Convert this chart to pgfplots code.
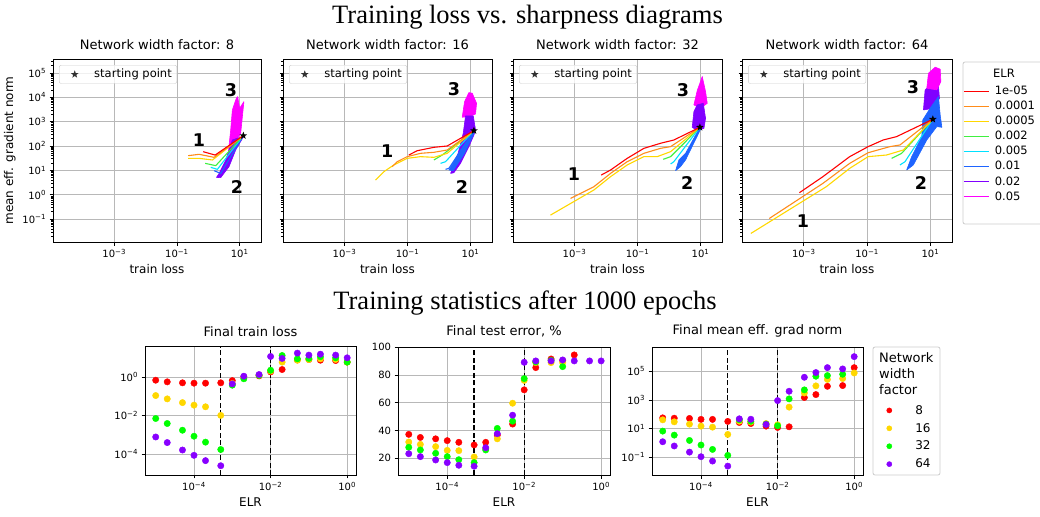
\documentclass[border=0pt]{standalone}
\usepackage{pgfplots}
\pgfplotsset{compat=1.18}
\usepackage{fontspec}
\setmainfont{DejaVu Sans}
\newfontfamily\titlefont{Liberation Serif}

\definecolor{cRed}{RGB}{255,0,0}
\definecolor{cOrange}{RGB}{255,140,26}
\definecolor{cGold}{RGB}{255,215,0}
\definecolor{cGreen}{RGB}{64,240,64}
\definecolor{cCyan}{RGB}{0,225,255}
\definecolor{cBlue}{RGB}{30,100,255}
\definecolor{cPurple}{RGB}{128,0,255}
\definecolor{cMagenta}{RGB}{255,0,255}
\definecolor{sRed}{RGB}{255,0,0}
\definecolor{sGold}{RGB}{255,215,0}
\definecolor{sGreen}{RGB}{0,255,0}
\definecolor{sPurple}{RGB}{136,0,255}

% filled five-point star
\pgfdeclareplotmark{fstar}{%
  \pgfpathmoveto{\pgfpointpolar{90}{\pgfplotmarksize}}%
  \pgfpathlineto{\pgfpointpolar{126}{0.42\pgfplotmarksize}}%
  \pgfpathlineto{\pgfpointpolar{162}{\pgfplotmarksize}}%
  \pgfpathlineto{\pgfpointpolar{198}{0.42\pgfplotmarksize}}%
  \pgfpathlineto{\pgfpointpolar{234}{\pgfplotmarksize}}%
  \pgfpathlineto{\pgfpointpolar{270}{0.42\pgfplotmarksize}}%
  \pgfpathlineto{\pgfpointpolar{306}{\pgfplotmarksize}}%
  \pgfpathlineto{\pgfpointpolar{342}{0.42\pgfplotmarksize}}%
  \pgfpathlineto{\pgfpointpolar{18}{\pgfplotmarksize}}%
  \pgfpathlineto{\pgfpointpolar{54}{0.42\pgfplotmarksize}}%
  \pgfpathclose\pgfusepathqfill}

\newcommand{\logt}[1]{\pgfmathtruncatemacro{\ee}{round(#1)}10\textsuperscript{\ifnum\ee<0 −\number-\ee\else\ee\fi}}

% tikz-only styles
\tikzset{
  trl/.style={line width=1.1pt, line join=round},
  blb/.style={line width=0.6pt, line join=round},
  pNum/.style={font=\fontsize{17.5}{20}\selectfont\bfseries},
}

% axis option sets, expanded in place
\newcommand{\TopAxis}[1]{\begin{axis}[scale only axis, anchor=north west,
    tick align=outside, tick pos=left,
    grid=major, major grid style={color=black!28, line width=0.6pt},
    axis line style={line width=0.8pt},
    every tick/.style={black, line width=0.6pt},
    major tick length=3.5pt, minor tick length=2pt,
    font=\fontsize{12}{14}\selectfont,
    tick label style={font=\fontsize{10}{12}\selectfont},
    title style={font=\fontsize{13}{15}\selectfont},
    xmode=log, ymode=log, log basis x=10, log basis y=10, height=183pt,
    xmin=1.12e-5, xmax=47.9, ymin=0.0115, ymax=3.7e5,
    xtick={1e-3,1e-1,10}, ytick={1e-1,1,10,100,1000,10000,100000},
    minor ytick={2e-2,3e-2,4e-2,5e-2,6e-2,7e-2,8e-2,9e-2,2e-1,3e-1,4e-1,5e-1,6e-1,7e-1,8e-1,9e-1,
      2,3,4,5,6,7,8,9,20,30,40,50,60,70,80,90,200,300,400,500,600,700,800,900,
      2e3,3e3,4e3,5e3,6e3,7e3,8e3,9e3,2e4,3e4,4e4,5e4,6e4,7e4,8e4,9e4,2e5,3e5},
    xticklabel={\logt{\tick}}, yticklabel={\logt{\tick}}, xlabel={train loss},
    legend cell align=left,
    legend image code/.code={\draw[##1] plot coordinates {(12.5pt,0pt)}; \path[draw=none, fill=none] (0pt,0pt) -- (30pt,0pt);},
    legend style={at={(0.029,0.967)}, anchor=north west, draw=black!20,
      rounded corners=2pt, fill=white, fill opacity=0.8, text opacity=1,
      font=\fontsize{11.5}{13}\selectfont}, #1]}

\newcommand{\BotAxis}[1]{\begin{axis}[scale only axis, anchor=north west,
    tick align=outside, tick pos=left,
    grid=major, major grid style={color=black!28, line width=0.6pt},
    axis line style={line width=0.8pt},
    every tick/.style={black, line width=0.6pt},
    major tick length=3.5pt, minor tick length=2pt,
    font=\fontsize{12}{14}\selectfont,
    tick label style={font=\fontsize{10}{12}\selectfont},
    title style={font=\fontsize{13}{15}\selectfont},
    xmode=log, log basis x=10, log basis y=10, height=128pt,
    xmin=5.25e-6, xmax=1.7, xtick={1e-4,1e-2,1},
    xticklabel={\logt{\tick}}, xlabel={ELR}, legend cell align=left, #1]}

\begin{document}
\begin{tikzpicture}
\useasboundingbox (0pt,0pt) rectangle (1040pt,-516pt);

\node[font=\titlefont\fontsize{26.5}{30}\selectfont] at (527.5pt,-17pt) {Training loss vs. sharpness diagrams};
\node[font=\titlefont\fontsize{26.5}{30}\selectfont] at (525pt,-303pt) {Training statistics after 1000 epochs};

% legend frames and titles
\draw[black!20, fill=white, line width=0.8pt, rounded corners=2pt] (963pt,-62pt) rectangle (1052pt,-224pt);
\node[font=\fontsize{11.5}{13}\selectfont] at (1004pt,-73pt) {ELR};
\draw[black!20, fill=white, line width=0.8pt, rounded corners=2pt] (873pt,-347pt) rectangle (940pt,-475pt);
\node[anchor=north west, align=left, inner sep=0pt, font=\fontsize{13}{16}\selectfont] at (879pt,-352pt) {Network\\width\\factor};

% ---------- width factor 8
\TopAxis{at={(53pt,-59pt)}, width=208pt, title={Network width factor: 8}, ylabel={mean eff. gradient norm}}
\addplot[forget plot, blb, fill=cMagenta, draw=cMagenta] coordinates {(4.37,58.5)(5.18,455)(5.85,3010)(7.84,9100)(8.65,10650)(10,3530)(13.7,6640)(12.2,1600)(10.8,332)(7.84,176)(5.85,68.5)(4.37,58.5)};
\addplot[forget plot, blb, fill=cPurple, draw=cPurple] coordinates {(13.7,258)(5.85,176)(3.6,26.6)(2.21,7.5)(1.82,5.15)(2.49,5.0)(4.58,14.2)(7.47,68.5)(13.7,258)};
\addplot[forget plot, trl, cBlue] coordinates {(13.1,266)(2.49,7.5)(1.53,9.7)};
\addplot[forget plot, trl, cCyan] coordinates {(13.1,266)(1.95,11)(1.2,13.3)};
\addplot[forget plot, trl, cGreen] coordinates {(13.1,266)(1.73,15.6)(0.794,19.4)};
\addplot[forget plot, trl, cGold] coordinates {(13.1,266)(1.36,26.6)(0.51,31.1)(0.229,31)};
\addplot[forget plot, trl, cOrange] coordinates {(13.1,266)(1.53,34.2)(0.51,45.5)(0.229,40)};
\addplot[forget plot, trl, cRed] coordinates {(13.1,266)(1.65,42.4)(0.685,58.5)};
\addplot[only marks, mark=fstar, mark size=4pt, black] coordinates {(13.1,266)};
\addlegendentry{starting point}
\node[pNum] at (axis description cs:0.856,0.831) {3};
\node[pNum] at (axis description cs:0.702,0.557) {1};
\node[pNum] at (axis description cs:0.885,0.301) {2};
\end{axis}

% ---------- width factor 16
\TopAxis{at={(283pt,-59pt)}, width=209pt, title={Network width factor: 16}, yticklabels={}}
\addplot[forget plot, blb, fill=cMagenta, draw=cMagenta] coordinates {(5.43,1510)(6.46,6640)(8.85,15560)(11.3,14600)(15.5,5660)(14.4,2070)(9.53,1600)(5.43,1510)};
\addplot[forget plot, blb, fill=cPurple, draw=cPurple] coordinates {(14.4,455)(12.2,1710)(6.93,1710)(5.85,332)(3.78,36.5)(2.32,7.5)(2.96,8.0)(4.82,19.4)(8.85,94)(12.8,283)(14.4,455)};
\addplot[forget plot, blb, fill=cBlue, draw=cBlue] coordinates {(12.8,427)(4.82,68.5)(2.05,10.3)(2.82,9.7)(6.46,50)(12.8,332)(12.8,427)};
\addplot[forget plot, trl, cBlue] coordinates {(12.8,427)(2.05,12.1)(1.61,11)};
\addplot[forget plot, trl, cCyan] coordinates {(12.8,427)(1.61,22.7)(1.12,19.4)};
\addplot[forget plot, trl, cGreen] coordinates {(12.8,427)(1.26,42.6)(0.685,26.6)};
\addplot[forget plot, trl, cGold] coordinates {(12.8,427)(1.82,50)(0.685,34.2)(0.259,36.5)(0.0975,31.1)(0.0368,16.6)(0.0177,8.8)(0.00963,4.0)};
\addplot[forget plot, trl, cOrange] coordinates {(12.8,427)(1.82,68.5)(0.685,55)(0.259,50)(0.0975,36.5)(0.047,22.7)(0.0326,14.2)};
\addplot[forget plot, trl, cRed] coordinates {(12.8,427)(1.82,100)(0.685,88)(0.203,64)(0.110,42.6)};
\addplot[only marks, mark=fstar, mark size=4pt, black] coordinates {(12.8,427)};
\addlegendentry{starting point}
\node[pNum] at (axis description cs:0.818,0.836) {3};
\node[pNum] at (axis description cs:0.498,0.497) {1};
\node[pNum] at (axis description cs:0.856,0.301) {2};
\end{axis}

% ---------- width factor 32
\TopAxis{at={(513pt,-59pt)}, width=209pt, title={Network width factor: 32}, yticklabels={}}
\addplot[forget plot, blb, fill=cMagenta, draw=cMagenta] coordinates {(6.14,4840)(7.84,18800)(11.3,70600)(14.4,17100)(16.3,5660)(10,3530)(6.14,4840)};
\addplot[forget plot, blb, fill=cPurple, draw=cPurple] coordinates {(5.43,585)(6.14,2580)(7.84,4840)(12.2,5660)(14.4,1370)(12.8,532)(7.84,427)(5.43,585)};
\addplot[forget plot, blb, fill=cBlue, draw=cBlue] coordinates {(9.53,585)(3.34,50)(2.05,26.6)(1.61,9.7)(2.32,14.2)(3.34,26.6)(10,484)(9.53,585)};
\addplot[forget plot, trl, cCyan] coordinates {(9.53,585)(1.42,22.7)(1.12,18.2)};
\addplot[forget plot, trl, cGreen] coordinates {(9.53,585)(1.12,36.5)(0.653,28.3)};
\addplot[forget plot, trl, cGold] coordinates {(9.53,585)(1.12,58.5)(0.421,36.5)(0.159,36.5)(0.047,16.6)(0.0139,5.5)(0.00411,1.56)(0.000173,0.146)};
\addplot[forget plot, trl, cOrange] coordinates {(9.53,585)(1.12,94)(0.537,80)(0.159,50)(0.047,22.7)(0.0139,7.5)(0.00411,2.13)(0.000747,0.706)};
\addplot[forget plot, trl, cRed] coordinates {(9.53,585)(1.42,176)(0.537,129)(0.159,80)(0.047,31.1)(0.0139,10.3)(0.00703,6.4)};
\addplot[only marks, mark=fstar, mark size=4pt, black] coordinates {(9.53,585)};
\addlegendentry{starting point}
\node[pNum] at (axis description cs:0.813,0.831) {3};
\node[pNum] at (axis description cs:0.292,0.372) {1};
\node[pNum] at (axis description cs:0.833,0.322) {2};
\end{axis}

% ---------- width factor 64
\TopAxis{at={(742pt,-59pt)}, width=210pt, title={Network width factor: 64}, yticklabels={}}
\addplot[forget plot, blb, fill=cPurple, draw=cPurple] coordinates {(6.0,3010)(6.78,20000)(11.0,37600)(17.9,27400)(19.3,9100)(12.4,3530)(6.0,3010)};
\addplot[forget plot, blb, fill=cMagenta, draw=cMagenta] coordinates {(7.66,23400)(8.65,96800)(14.1,171000)(20.3,141500)(21.3,44000)(15.9,20000)(7.66,23400)};
\addplot[forget plot, blb, fill=cBlue, draw=cBlue] coordinates {(1.77,10.3)(2.55,36.5)(5.31,242)(5.72,1170)(9.75,3530)(17.9,10650)(20.3,1880)(22.9,585)(15.9,623)(7.66,176)(2.88,16.6)(1.77,10.3)};
\addplot[forget plot, trl, cCyan] coordinates {(11.9,1250)(1.57,22.7)(1.09,16.6)};
\addplot[forget plot, trl, cGreen] coordinates {(11.9,1250)(1.23,50)(0.592,31.1)};
\addplot[forget plot, trl, cGold] coordinates {(11.9,1250)(1.39,68.5)(0.411,42.6)(0.1076,36.5)(0.0282,12.1)(0.00512,2.13)(0.0000213,0.0258)};
\addplot[forget plot, trl, cOrange] coordinates {(11.9,1250)(1.09,110)(0.525,94)(0.1076,53)(0.0282,19.4)(0.00401,2.92)(0.0000813,0.106)};
\addplot[forget plot, trl, cRed] coordinates {(11.9,1250)(0.853,242)(0.322,176)(0.1076,94)(0.0282,36.5)(0.00401,5.5)(0.000727,1.21)};
\addplot[only marks, mark=fstar, mark size=4pt, black] coordinates {(11.9,1250)};
\addlegendentry{starting point}
\node[pNum] at (axis description cs:0.814,0.847) {3};
\node[pNum] at (axis description cs:0.290,0.115) {1};
\node[pNum] at (axis description cs:0.852,0.322) {2};
\end{axis}

% ---------- ELR legend entries
\begin{axis}[scale only axis, anchor=north west, at={(742pt,-59pt)}, width=210pt, height=183pt,
  hide axis, xmin=0, xmax=1, ymin=0, ymax=1, legend cell align=left,
  legend image code/.code={\draw[line width=1.2pt, #1] (0pt,0pt) -- (25pt,0pt); \path[draw=none, fill=none] (0pt,0pt) -- (29pt,0pt);},
  legend style={at={(1.038,0.874)}, anchor=north west, draw=none, fill=none, row sep=1pt,
    font=\fontsize{11.5}{13}\selectfont}]
\addlegendimage{color=cRed}\addlegendentry{1e-05}
\addlegendimage{color=cOrange}\addlegendentry{0.0001}
\addlegendimage{color=cGold}\addlegendentry{0.0005}
\addlegendimage{color=cGreen}\addlegendentry{0.002}
\addlegendimage{color=cCyan}\addlegendentry{0.005}
\addlegendimage{color=cBlue}\addlegendentry{0.01}
\addlegendimage{color=cPurple}\addlegendentry{0.02}
\addlegendimage{color=cMagenta}\addlegendentry{0.05}
\end{axis}

% ---------- final train loss
\BotAxis{at={(145pt,-346pt)}, width=211pt, height=129pt, title={Final train loss},
  ymode=log, ymin=8.1e-6, ymax=39.8, ytick={1e-4,1e-2,1}, yticklabel={\logt{\tick}}}
\addplot[forget plot, black, line width=1.3pt, dash pattern=on 5pt off 2.5pt] coordinates {(5e-4,8.1e-6)(5e-4,39.8)};
\addplot[forget plot, black, line width=1.3pt, dash pattern=on 5pt off 2.5pt] coordinates {(1e-2,8.1e-6)(1e-2,39.8)};
\addplot[only marks, mark=*, mark size=3.2pt, sRed, mark options={draw=none, fill=sRed}] coordinates {(1e-5,0.67)(2e-5,0.55)(5e-5,0.49)(1e-4,0.47)(2e-4,0.47)(5e-4,0.49)(1e-3,0.64)(2e-3,1.0)(5e-3,1.12)(1e-2,1.8)(2e-2,2.4)(5e-2,7.5)(0.1,7.9)(0.2,7.3)(0.5,7.0)(1,5.8)};
\addplot[only marks, mark=*, mark size=3.2pt, sGold, mark options={draw=none, fill=sGold}] coordinates {(1e-5,0.107)(2e-5,0.072)(5e-5,0.046)(1e-4,0.034)(2e-4,0.028)(5e-4,0.0100)(1e-3,0.45)(2e-3,0.9)(5e-3,1.2)(1e-2,2.0)(2e-2,5.8)(5e-2,7.3)(0.1,7.9)(0.2,8.6)(0.5,8.0)(1,5.8)};
\addplot[only marks, mark=*, mark size=3.2pt, sGreen, mark options={draw=none, fill=sGreen}] coordinates {(1e-5,0.0069)(2e-5,0.0038)(5e-5,0.0017)(1e-4,0.00083)(2e-4,0.00041)(5e-4,0.00017)(1e-3,0.37)(2e-3,0.79)(5e-3,1.2)(1e-2,2.2)(2e-2,12.8)(5e-2,8.6)(0.1,9.0)(0.2,11)(0.5,9.7)(1,5.8)};
\addplot[only marks, mark=*, mark size=3.2pt, sPurple, mark options={draw=none, fill=sPurple}] coordinates {(1e-5,0.00076)(2e-5,0.00039)(5e-5,0.00016)(1e-4,0.000085)(2e-4,0.000045)(5e-4,0.0000245)(1e-3,0.43)(2e-3,1.08)(5e-3,1.32)(1e-2,11.4)(2e-2,9.0)(5e-2,17)(0.1,13.4)(0.2,15)(0.5,13.4)(1,9.7)};
\end{axis}

% ---------- final test error
\BotAxis{at={(398pt,-347pt)}, width=212pt, height=128pt, title={Final test error, \%},
  ymin=8, ymax=100, ytick={20,40,60,80,100},
  yticklabel style={/pgf/number format/assume math mode=true}}
\addplot[forget plot, black, line width=1.3pt, dash pattern=on 5pt off 2.5pt] coordinates {(5e-4,8)(5e-4,100)};
\addplot[forget plot, black, line width=1.3pt, dash pattern=on 5pt off 2.5pt] coordinates {(1e-2,8)(1e-2,100)};
\addplot[only marks, mark=*, mark size=3.2pt, sRed, mark options={draw=none, fill=sRed}] coordinates {(1e-5,37.2)(2e-5,35)(5e-5,34)(1e-4,32.7)(2e-4,31.5)(5e-4,29.6)(1e-3,31.5)(2e-3,36.7)(5e-3,44.6)(1e-2,69.2)(2e-2,85.2)(5e-2,91.4)(0.1,90.2)(0.2,94.3)};
\addplot[only marks, mark=*, mark size=3.2pt, sGold, mark options={draw=none, fill=sGold}] coordinates {(1e-5,31.7)(2e-5,30)(5e-5,28.4)(1e-4,25.7)(2e-4,25.5)(5e-4,21)(1e-3,27)(2e-3,34)(5e-3,59.6)(1e-2,76)(2e-2,88.8)(5e-2,88.8)(0.1,88.8)};
\addplot[only marks, mark=*, mark size=3.2pt, sGreen, mark options={draw=none, fill=sGreen}] coordinates {(1e-5,27.9)(2e-5,26)(5e-5,23.6)(1e-4,21.2)(2e-4,19)(5e-4,16.9)(1e-3,26)(2e-3,41.5)(5e-3,46.7)(1e-2,77.3)(2e-2,89.3)(5e-2,90.4)(0.1,85.9)};
\addplot[only marks, mark=*, mark size=3.2pt, sPurple, mark options={draw=none, fill=sPurple}] coordinates {(1e-5,23.3)(2e-5,21.2)(5e-5,18.8)(1e-4,16.9)(2e-4,15)(5e-4,14.3)(1e-3,27.6)(2e-3,37.7)(5e-3,51)(1e-2,89)(2e-2,90)(5e-2,90)(0.1,90.7)(0.2,90)(0.5,90)(1,90)};
\end{axis}

% ---------- final grad norm
\BotAxis{at={(652pt,-347pt)}, width=211pt, height=128pt, title={Final mean eff. grad norm},
  ymode=log, ymin=0.0055, ymax=5.0e6, ytick={0.1,10,1000,100000}, yticklabel={\logt{\tick}},
  legend image code/.code={\draw[#1, mark size=2.6pt] plot coordinates {(6pt,0pt)}; \path[draw=none, fill=none] (0pt,0pt) -- (30pt,0pt);},
  legend style={at={(1.081,0.578)}, anchor=north west, draw=none, fill=none, row sep=3.5pt,
    font=\fontsize{12}{14}\selectfont}}
\addplot[forget plot, black, line width=1.3pt, dash pattern=on 5pt off 2.5pt] coordinates {(5e-4,0.0055)(5e-4,5e6)};
\addplot[forget plot, black, line width=1.3pt, dash pattern=on 5pt off 2.5pt] coordinates {(1e-2,0.0055)(1e-2,5e6)};
\addplot[only marks, mark=*, mark size=3.2pt, sRed, mark options={draw=none, fill=sRed}] coordinates {(1e-5,55)(2e-5,52)(5e-5,50)(1e-4,43)(2e-4,43)(5e-4,31)(1e-3,26)(2e-3,22)(5e-3,14.5)(1e-2,11.7)(2e-2,13)(5e-2,1450)(0.1,2340)(0.2,8900)(0.5,10000)(1,180000)};
\addlegendentry{8}
\addplot[only marks, mark=*, mark size=3.2pt, sGold, mark options={draw=none, fill=sGold}] coordinates {(1e-5,40)(2e-5,29)(5e-5,20)(1e-4,14.5)(2e-4,12.3)(5e-4,3.8)(1e-3,32)(2e-3,28)(5e-3,22)(1e-2,18)(2e-2,310)(5e-2,3000)(0.1,9500)(0.2,27000)(0.5,31000)(1,76000)};
\addlegendentry{16}
\addplot[only marks, mark=*, mark size=3.2pt, sGreen, mark options={draw=none, fill=sGreen}] coordinates {(1e-5,6.5)(2e-5,3.4)(5e-5,1.44)(1e-4,0.69)(2e-4,0.34)(5e-4,0.13)(1e-3,40)(2e-3,32)(5e-3,20)(1e-2,15.4)(2e-2,1170)(5e-2,5000)(0.1,45000)(0.2,50000)(0.5,62000)};
\addlegendentry{32}
\addplot[only marks, mark=*, mark size=3.2pt, sPurple, mark options={draw=none, fill=sPurple}] coordinates {(1e-5,1.17)(2e-5,0.59)(5e-5,0.22)(1e-4,0.105)(2e-4,0.052)(5e-4,0.023)(1e-3,47)(2e-3,44)(5e-3,19)(1e-2,890)(2e-2,4000)(5e-2,38000)(0.1,81000)(0.2,180000)(0.5,146000)(1,1.06e6)};
\addlegendentry{64}
\end{axis}
\end{tikzpicture}
\end{document}
